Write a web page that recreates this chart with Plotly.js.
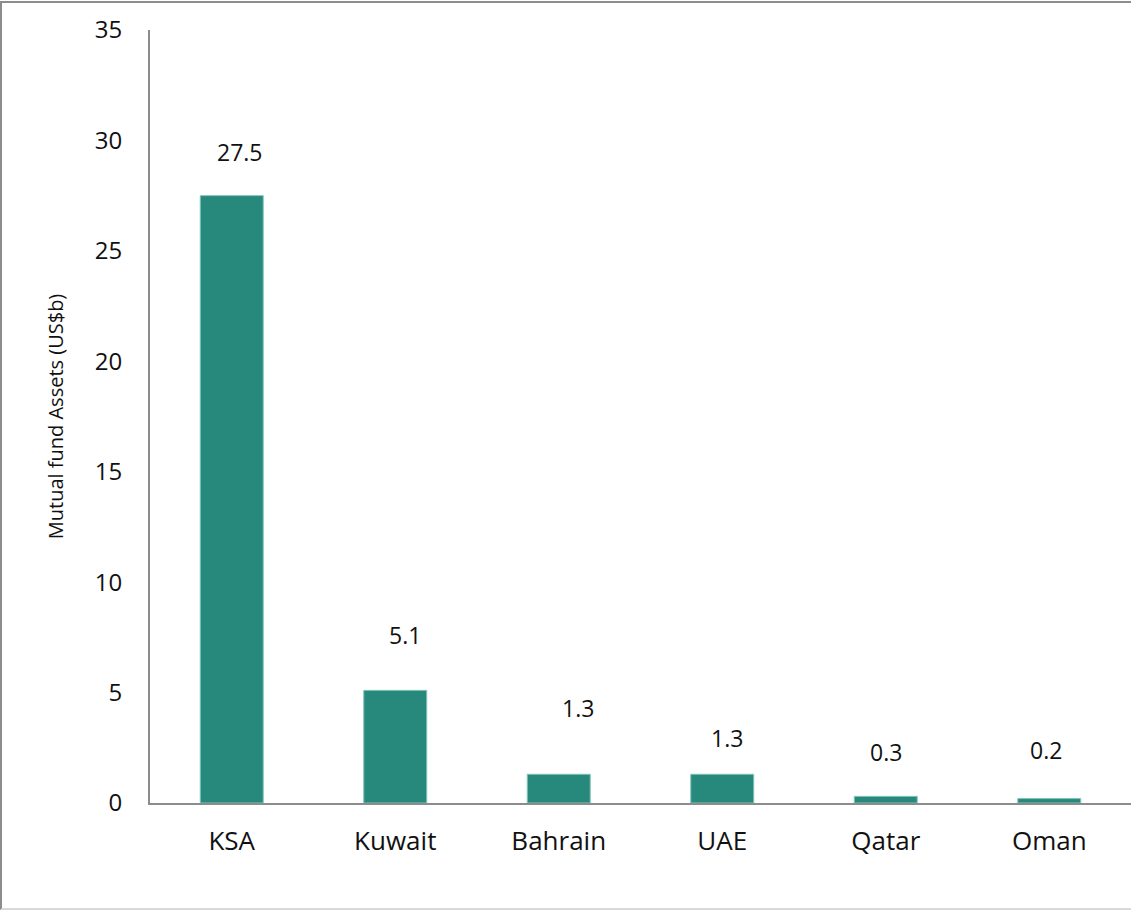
<!DOCTYPE html>
<html>
<head>
<meta charset="utf-8">
<script src="https://cdn.plot.ly/plotly-3.0.1.min.js"></script>
<style>
  html, body { margin: 0; padding: 0; background: #fff; }
  #wrap { position: relative; width: 1131px; height: 912px; }
  #chart { width: 1131px; height: 912px; }
  #frame { position: absolute; left: 0; top: 1px; width: 1131px; height: 909px;
           border-top: 2px solid #8c8c8c; border-left: 2px solid #8c8c8c;
           border-bottom: 2px solid #d9d9d9; box-sizing: border-box; pointer-events: none; }
</style>
</head>
<body>
<div id="wrap">
  <div id="chart"></div>
  <div id="frame"></div>
</div>
<script>
// Data
const countries = ["KSA", "Kuwait", "Bahrain", "UAE", "Qatar", "Oman"];
const assets = [27.5, 5.1, 1.3, 1.3, 0.3, 0.2];
const labels = ["27.5", "5.1", "1.3", "1.3", "0.3", "0.2"];
const yTicks = [0, 5, 10, 15, 20, 25, 30, 35];

// Label offsets (pixels), as placed in the original
const labelDx = [8, 10, 19, 5, 0, -3];
const labelDy = [44, 55, 66, 36, 44, 49];

const FONT = "Open Sans, Lato, sans-serif";

const trace = {
  type: "bar",
  x: countries,
  y: assets,
  width: 0.385,
  marker: { color: "#27897b", line: { color: "#7fc4b8", width: 1 } },
  hoverinfo: "x+y"
};

const annotations = countries.map((c, i) => ({
  x: c, y: assets[i], xref: "x", yref: "y",
  text: labels[i], showarrow: false,
  xanchor: "center", yanchor: "middle",
  xshift: labelDx[i], yshift: labelDy[i],
  font: { family: FONT, size: 23, color: "#111" }
}));

const layout = {
  width: 1131, height: 912,
  margin: { l: 150, r: 0, t: 30, b: 109 },
  paper_bgcolor: "#fff", plot_bgcolor: "#fff",
  showlegend: false,
  xaxis: {
    type: "category",
    showline: true, linecolor: "#8c8c8c", linewidth: 2,
    showgrid: false, zeroline: false, ticks: "",
    ticklabelstandoff: 14,
    tickfont: { family: FONT, size: 26, color: "#111" }
  },
  yaxis: {
    range: [0, 35], tickvals: yTicks, ticktext: yTicks.map(String),
    showline: true, linecolor: "#8c8c8c", linewidth: 2,
    showgrid: false, zeroline: false, ticks: "",
    ticklabelstandoff: 21,
    tickfont: { family: FONT, size: 24, color: "#111" },
    title: { text: "Mutual fund Assets (US$b)", standoff: 26,
             font: { family: FONT, size: 20, color: "#111" } }
  },
  annotations: annotations
};

Plotly.newPlot("chart", [trace], layout, { displayModeBar: false, staticPlot: true });
</script>
</body>
</html>
